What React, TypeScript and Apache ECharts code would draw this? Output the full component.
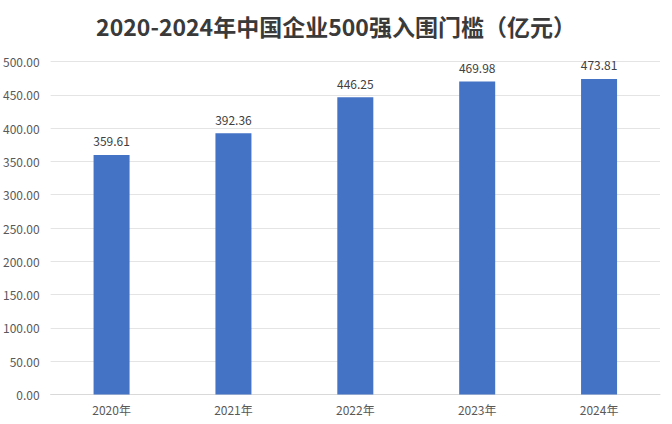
import React, { useEffect, useRef } from "react";
import * as echarts from "echarts";

const titleText = "2020-2024年中国企业500强入围门槛（亿元）";
const categories = ["2020年", "2021年", "2022年", "2023年", "2024年"];
const thresholds = [359.61, 392.36, 446.25, 469.98, 473.81];
const yMin = 0;
const yMax = 500;
const yInterval = 50;

export default function App() {
  const ref = useRef<HTMLDivElement>(null);
  useEffect(() => {
    if (!ref.current) return;
    const chart = echarts.init(ref.current, undefined, { renderer: "svg" });
    const font = '"Noto Sans CJK SC", "Noto Sans", sans-serif';
    chart.setOption({
      animation: false,
      backgroundColor: "#ffffff",
      title: {
        text: titleText,
        left: "center",
        top: 9,
        textStyle: {
          fontSize: 23,
          fontWeight: "bold",
          color: "#3a3a3a",
          fontFamily: font,
        },
      },
      grid: { left: 50, right: 12, top: 61.5, bottom: 29.5, containLabel: false },
      xAxis: {
        type: "category",
        data: categories,
        axisLine: { show: true, lineStyle: { color: "#d9d9d9" } },
        axisTick: { show: false },
        axisLabel: { color: "#595959", fontSize: 12, margin: 9, fontFamily: font },
      },
      yAxis: {
        type: "value",
        min: yMin,
        max: yMax,
        interval: yInterval,
        axisLine: { show: false },
        axisTick: { show: false },
        axisLabel: {
          color: "#595959",
          fontSize: 12,
          margin: 11,
          fontFamily: font,
          formatter: (v: number) => v.toFixed(2),
        },
        splitLine: { lineStyle: { color: "#e4e4e4" } },
      },
      series: [
        {
          type: "bar",
          data: thresholds,
          barWidth: 36,
          itemStyle: { color: "#4472c4" },
          label: {
            show: true,
            position: "top",
            distance: 8,
            color: "#404040",
            fontSize: 12,
            fontFamily: font,
            formatter: (p: any) => Number(p.value).toFixed(2),
          },
        },
      ],
    });
    return () => chart.dispose();
  }, []);
  return (
    <div
      ref={ref}
      style={{ position: "fixed", left: 0, top: 0, width: 672, height: 424 }}
    />
  );
}
